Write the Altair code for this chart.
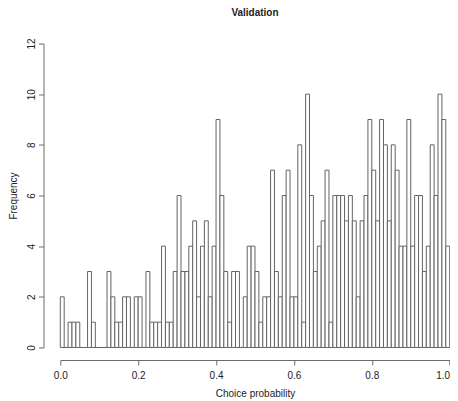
import altair as alt
import pandas as pd

# Histogram of choice probabilities: 100 bins of width 0.01 on [0, 1]
bin_start = [round(i * 0.01, 2) for i in range(100)]
bin_end = [round((i + 1) * 0.01, 2) for i in range(100)]
counts = [
    2, 0, 1, 1, 1, 0, 0, 3, 1, 0,
    0, 0, 3, 2, 1, 1, 2, 2, 0, 2,
    2, 0, 3, 1, 1, 1, 4, 1, 1, 3,
    6, 3, 3, 4, 5, 2, 4, 5, 2, 4,
    9, 6, 3, 1, 3, 3, 0, 2, 4, 4,
    3, 1, 2, 2, 7, 3, 2, 6, 7, 2,
    2, 8, 1, 10, 6, 3, 4, 5, 7, 1,
    6, 6, 6, 5, 6, 5, 2, 5, 6, 9,
    7, 5, 9, 8, 5, 8, 7, 4, 4, 9,
    4, 6, 6, 3, 4, 8, 6, 10, 9, 4,
]
x_ticks = [0.0, 0.2, 0.4, 0.6, 0.8, 1.0]
y_ticks = [0, 2, 4, 6, 8, 10, 12]

df = pd.DataFrame({"start": bin_start, "end": bin_end, "count": counts})

FONT = "Liberation Sans"
AXIS_COLOR = "#6a6a6a"
TEXT_COLOR = "#222222"

chart = (
    alt.Chart(df, title=alt.Title(
        "Validation", fontSize=10, fontWeight="bold", font=FONT,
        color=TEXT_COLOR, anchor="middle", offset=20))
    .mark_bar(fill="white", stroke="#636363", strokeWidth=1)
    .encode(
        x=alt.X("start:Q",
                scale=alt.Scale(domain=[0, 1], nice=False, zero=False),
                axis=alt.Axis(values=x_ticks, format=".1f", title="Choice probability",
                              offset=12.5, tickSize=5, labelPadding=6,
                              labelFlush=False, labelOverlap=False,
                              labelAlign=alt.expr("datum.value >= 1 ? 'right' : 'center'"),
                              labelBaseline="top", titleBaseline="alphabetic",
                              titleY=36.5, titleFontWeight="normal",
                              titleFontSize=10, labelFontSize=10)),
        x2="end",
        y=alt.Y("count:Q",
                scale=alt.Scale(domain=[0, 12], nice=False),
                axis=alt.Axis(values=y_ticks, title="Frequency",
                              offset=16.8, tickSize=5, labelAngle=270,
                              labelFlush=False, labelOverlap=False,
                              labelAlign="center", labelBaseline="alphabetic",
                              labelPadding=4, titleAngle=270,
                              titleBaseline="alphabetic", titleX=-26.5, titleY=152,
                              titleAlign="center", titleFontWeight="normal",
                              titleFontSize=10, labelFontSize=10)),
        y2=alt.datum(0),
    )
    .properties(width=389.4, height=304,
                autosize=alt.AutoSizeParams(type="none"),
                padding={"left": 52.3, "top": 35.5, "right": 0, "bottom": 53})
    .configure_view(stroke=None)
    .configure_axis(grid=False, domainColor=AXIS_COLOR, tickColor=AXIS_COLOR,
                    labelColor=TEXT_COLOR, titleColor=TEXT_COLOR,
                    labelFont=FONT, titleFont=FONT, domainWidth=1, tickWidth=1)
)

chart.save("out.html", embed_options={"renderer": "svg", "actions": False})
